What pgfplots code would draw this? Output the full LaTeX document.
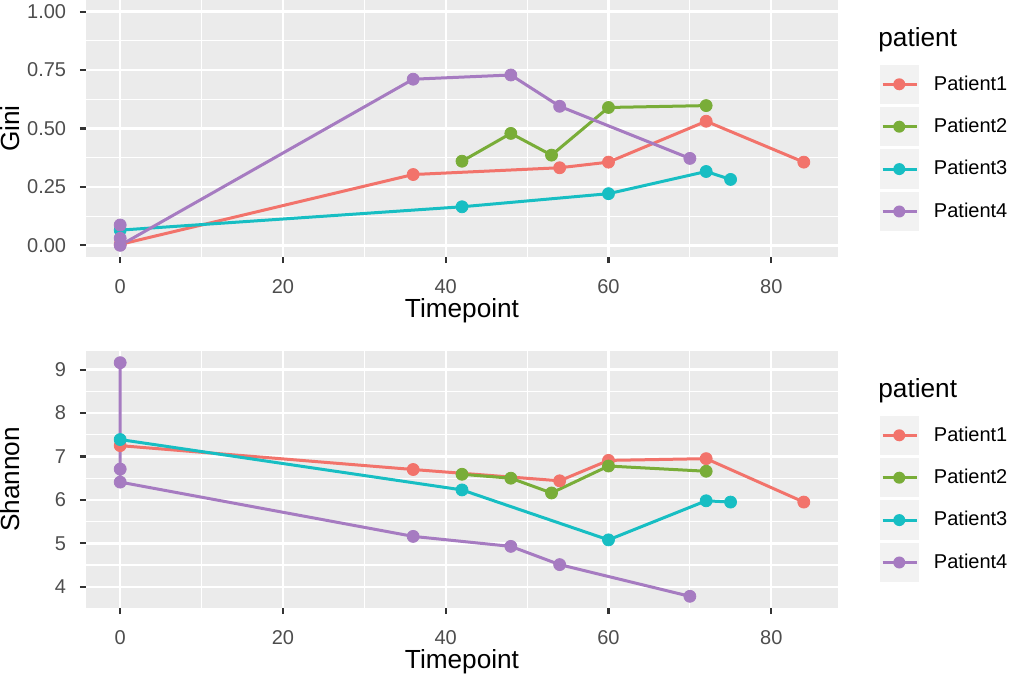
\documentclass[border=0pt]{standalone}
\usepackage{pgfplots}
\pgfplotsset{compat=1.18}
\usepackage{fontspec}
\setmainfont{Liberation Sans}
\definecolor{p1c}{HTML}{F2736B}
\definecolor{p2c}{HTML}{79AD38}
\definecolor{p3c}{HTML}{17BEC3}
\definecolor{p4c}{HTML}{A67BC1}
\definecolor{panelbg}{HTML}{EBEBEB}
\definecolor{keybg}{HTML}{F2F2F2}
\definecolor{tickc}{HTML}{333333}
\definecolor{ticklab}{HTML}{4D4D4D}
\newcommand{\tickfont}{\fontsize{10bp}{12bp}\selectfont}
\newcommand{\titlefont}{\fontsize{13.1bp}{15bp}\selectfont}
\pgfplotsset{
 ggstyle/.style={
  scale only axis, width=376bp, height=128.5bp,
  xmin=-4.2, xmax=88.2, clip=false,
  axis background/.style={fill=panelbg},
  axis line style={draw=none},
  grid=both,
  major grid style={white, line width=1.2bp},
  minor grid style={white, line width=0.6bp},
  xtick={0,20,40,60,80}, xticklabels={0,20,40,60,80},
  minor xtick={10,30,50,70},
  tick align=outside, tick pos=left,
  major tick length=3bp, minor tick length=0pt,
  tick style={color=tickc, line width=1.1bp},
  ticklabel style={font=\tickfont, text=ticklab},
  yticklabel style={anchor=east, inner sep=0pt, xshift=-6.75bp},
  xticklabel style={anchor=north, inner sep=0pt, yshift=-8.1bp},
  ylabel style={at={(axis description cs:-0.1004,0.5)}, anchor=center, font=\titlefont, inner sep=0pt},
  xlabel style={at={(axis description cs:0.5,-0.2335)}, anchor=base, font=\titlefont, inner sep=0pt},
  xlabel={Timepoint},
  legend style={at={(axis description cs:1.0533,0.7545)}, anchor=north west, draw=none, fill=none,
    inner sep=0pt, outer sep=0pt, row sep=0pt, column sep=6.75bp,
    font=\tickfont, nodes={inner sep=0pt, anchor=west, text=black}},
  legend cell align=left,
  legend image code/.code={
    \path[draw=none, fill=none] (0bp,-10.6bp) rectangle (21.2bp,10.6bp);
    \path[draw=none, fill=keybg] (0.8bp,-9.8bp) rectangle (20.4bp,9.8bp);
    \draw[#1] (2.3bp,0bp) -- (19.3bp,0bp);
    \path[#1, draw=none, fill] (10.6bp,0bp) circle (3bp);
  },
  lin/.style={line width=1.5bp, mark=none},
  pts/.style={only marks, mark=*, mark size=3bp, mark options={draw=none}, forget plot},
 }
}
\begin{document}
\begin{tikzpicture}
\path[use as bounding box] (0bp,0bp) rectangle (505.5bp,-337.5bp);
% ---------- Top: Gini ----------
\begin{axis}[ggstyle, at={(43bp,0bp)}, anchor=north west,
  ymin=-0.05, ymax=1.05,
  ytick={0,0.25,0.5,0.75,1}, yticklabels={0.00,0.25,0.50,0.75,1.00},
  minor ytick={0.125,0.375,0.625,0.875},
  ylabel={Gini}]
\addplot[p1c, lin] coordinates {(0,0.004) (36,0.303) (54,0.332) (60,0.356) (72,0.531) (84,0.356)};
\addlegendentry{Patient1}
\addplot[p2c, lin] coordinates {(42,0.360) (48,0.479) (53,0.386) (60,0.590) (72,0.598)};
\addlegendentry{Patient2}
\addplot[p3c, lin] coordinates {(0,0.065) (42,0.165) (60,0.221) (72,0.316) (75,0.282)};
\addlegendentry{Patient3}
\addplot[p4c, lin] coordinates {(0,0.087) (0,0.030) (0,0.0) (36,0.711) (48,0.729) (54,0.595) (70,0.372)};
\addlegendentry{Patient4}
\addplot[p1c, pts] coordinates {(0,0.004) (36,0.303) (54,0.332) (60,0.356) (72,0.531) (84,0.356)};
\addplot[p2c, pts] coordinates {(42,0.360) (48,0.479) (53,0.386) (60,0.590) (72,0.598)};
\addplot[p3c, pts] coordinates {(0,0.065) (42,0.165) (60,0.221) (72,0.316) (75,0.282)};
\addplot[p4c, pts] coordinates {(0,0.087) (0,0.030) (0,0.0) (36,0.711) (48,0.729) (54,0.595) (70,0.372)};
\node[anchor=base west, inner sep=0pt, font=\titlefont] at (axis description cs:1.0532,0.8183) {patient};
\end{axis}
% ---------- Bottom: Shannon ----------
\begin{axis}[ggstyle, at={(43bp,-175.5bp)}, anchor=north west,
  ymin=3.511, ymax=9.429,
  ytick={4,5,6,7,8,9}, yticklabels={4,5,6,7,8,9},
  minor ytick={4.5,5.5,6.5,7.5,8.5},
  ylabel={Shannon}]
\addplot[p1c, lin] coordinates {(0,7.25) (36,6.70) (54,6.44) (60,6.91) (72,6.95) (84,5.95)};
\addlegendentry{Patient1}
\addplot[p2c, lin] coordinates {(42,6.59) (48,6.50) (53,6.16) (60,6.78) (72,6.66)};
\addlegendentry{Patient2}
\addplot[p3c, lin] coordinates {(0,7.39) (42,6.23) (60,5.08) (72,5.98) (75,5.95)};
\addlegendentry{Patient3}
\addplot[p4c, lin] coordinates {(0,9.16) (0,6.71) (0,6.41) (36,5.16) (48,4.93) (54,4.51) (70,3.78)};
\addlegendentry{Patient4}
\addplot[p1c, pts] coordinates {(0,7.25) (36,6.70) (54,6.44) (60,6.91) (72,6.95) (84,5.95)};
\addplot[p2c, pts] coordinates {(42,6.59) (48,6.50) (53,6.16) (60,6.78) (72,6.66)};
\addplot[p3c, pts] coordinates {(0,7.39) (42,6.23) (60,5.08) (72,5.98) (75,5.95)};
\addplot[p4c, pts] coordinates {(0,9.16) (0,6.71) (0,6.41) (36,5.16) (48,4.93) (54,4.51) (70,3.78)};
\node[anchor=base west, inner sep=0pt, font=\titlefont] at (axis description cs:1.0532,0.8183) {patient};
\end{axis}
\end{tikzpicture}
\end{document}
